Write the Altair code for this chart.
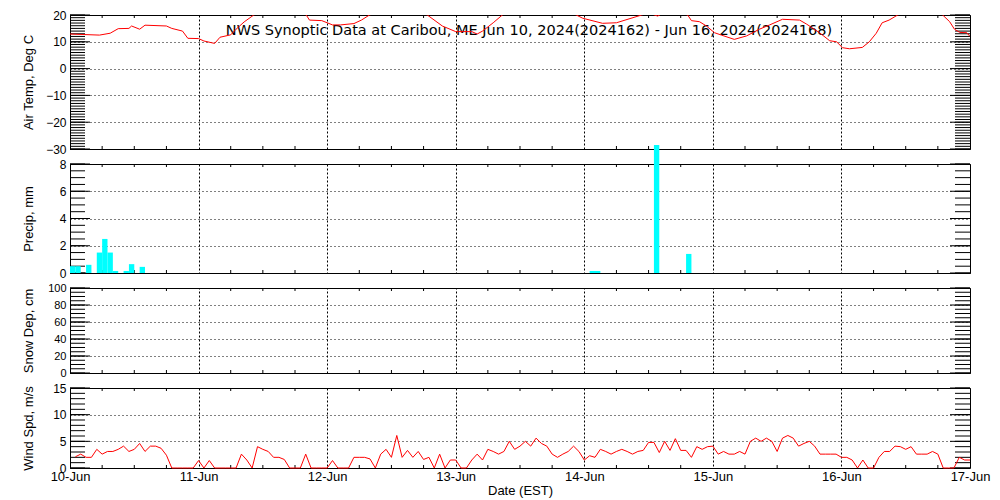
import json
import altair as alt
import pandas as pd

FONT = "Liberation Sans"
TFONT = "DejaVu Sans"
W = 900

TITLE = "NWS Synoptic Data at Caribou, ME    Jun 10, 2024(2024162) - Jun 16, 2024(2024168)"

day_labels = ["10-Jun", "11-Jun", "12-Jun", "13-Jun", "14-Jun", "15-Jun", "16-Jun", "17-Jun"]
day_hours = [0, 24, 48, 72, 96, 120, 144, 168]
six_hour_ticks = [h for h in range(6, 168, 6) if h % 24 != 0]

# Air temperature (hours since Jun 10 00 EST, deg C); values above 20 are off the plot
temp_hours = [0, 5.5, 7.5, 9, 11, 11.5, 13, 14, 18, 19, 21, 22, 24, 25, 27, 28, 30, 31, 32.5, 34.3,
              37, 40, 44.1, 44.7, 47, 49, 50.5, 53, 54.4, 55.9, 60, 64, 66.7, 69.5, 72, 75, 76, 77,
              79, 80.7, 84, 88, 92, 94.5, 95.7, 99.4, 102, 106.7, 108, 109.7, 110.5, 112, 115.3, 116,
              117.5, 118.8, 120.3, 121.6, 124, 126.3, 128.7, 130.6, 133, 136.2, 137.5, 139.9, 141.8,
              143.1, 144.2, 145.5, 147.9, 149.2, 150.5, 151.6, 152.9, 154.5, 157, 160, 162.9, 164.2,
              165.1, 166.1, 167.4, 168]
temp_c = [12.9, 12.5, 13.2, 14.9, 15.0, 15.9, 14.7, 16.2, 15.9, 15.0, 14.0, 11.3, 11.2, 10.3, 9.4, 11.7,
          12.6, 14.7, 17.4, 20.0, 22.5, 23.5, 20.0, 18.1, 17.9, 16.3, 16.3, 16.8, 18.1, 20.0, 23.0, 22.0,
          20.0, 15.9, 13.8, 13.8, 12.9, 14.0, 17.1, 20.0, 23.0, 24.0, 22.5, 20.0, 18.8, 16.9, 17.1, 20.0,
          20.8, 19.6, 20.5, 22.0, 20.0, 17.9, 17.5, 15.9, 13.4, 12.5, 10.9, 12.2, 14.7, 16.3, 18.4, 18.1,
          16.6, 13.4, 10.4, 10.0, 7.8, 7.4, 7.9, 10.0, 13.2, 17.1, 18.1, 20.0, 22.0, 22.5, 20.0, 17.5,
          14.7, 13.5, 13.4, 12.0]

# Hourly precipitation (hour start, mm)
precip_hours = [0, 1, 3, 5, 6, 7, 8, 10, 11, 13, 97, 98, 109, 115]
precip_mm = [0.5, 0.5, 0.6, 1.5, 2.5, 1.5, 0.15, 0.15, 0.65, 0.45, 0.15, 0.15, 9.4, 1.4]

# Wind speed (hourly, m/s)
wind_hours = list(range(1, 169))
wind_ms = [2.1, 2.6, 2.0, 2.0, 3.5, 2.6, 3.1, 3.1, 3.5, 4.1, 3.1, 3.5, 4.6, 3.1, 4.1, 4.1, 3.7, 2.4, 0,
           0, 0, 0, 0, 1.4, 0, 1.4, 0, 0, 0, 0, 0, 2.6, 1.5, 0, 4.0, 3.5, 3.1, 2.0, 2.0, 1.6, 0, 0, 0,
           2.6, 0, 0, 0, 0, 1.4, 0, 0, 0, 2.0, 2.0, 2.0, 1.7, 0, 2.6, 3.5, 2.0, 6.1, 2.0, 3.3, 2.0, 3.1,
           1.6, 2.0, 0, 2.6, 0, 1.5, 1.5, 0, 0, 1.5, 2.6, 1.5, 3.5, 3.1, 2.6, 3.1, 5.0, 3.5, 4.1, 5.0,
           4.1, 5.6, 4.6, 4.1, 2.6, 2.0, 2.6, 3.1, 4.1, 3.1, 1.5, 2.3, 2.0, 3.5, 3.1, 2.6, 3.1, 3.5,
           3.1, 2.6, 3.1, 3.3, 4.8, 4.8, 2.9, 5.0, 3.3, 5.5, 3.3, 3.3, 2.0, 4.0, 3.5, 4.0, 4.1, 2.6,
           3.1, 2.6, 2.6, 3.1, 2.6, 5.0, 5.6, 5.0, 5.6, 5.0, 3.1, 5.6, 6.1, 5.6, 4.1, 4.6, 5.0, 4.1,
           2.6, 2.6, 2.6, 2.6, 2.0, 2.0, 1.5, 0, 1.5, 0, 0, 2.0, 3.1, 3.1, 4.1, 4.0, 3.5, 4.0, 2.6,
           2.6, 2.6, 3.1, 2.6, 0, 0, 0, 2.0, 1.5, 1.5]

temp_major = [-30, -20, -10, 0, 10, 20]
temp_minor = list(range(-30, 21))
precip_major = [0, 2, 4, 6, 8]
precip_minor = [x / 2 for x in range(0, 17)]
snow_major = [0, 20, 40, 60, 80, 100]
snow_minor = list(range(0, 101, 5))
wind_major = [0, 5, 10, 15]
wind_minor = list(range(0, 16))

label_expr = json.dumps(day_labels) + "[round(datum.value / 24)]"
xscale = alt.Scale(domain=[0, 168], nice=False, zero=False)
GRID = dict(grid=True, gridColor="black", gridOpacity=1, gridWidth=1)


def x_axis(bottom):
    if bottom:
        return alt.Axis(values=day_hours, labelExpr=label_expr, title="Date (EST)", ticks=False,
                        domain=False, gridDash=[2, 2], labelFont=FONT, labelFontSize=13,
                        labelColor="black", labelPadding=2, labelFlush=False, labelOverlap=False,
                        titleFont=FONT, titleFontSize=13, titleFontWeight="normal",
                        titleColor="black", titlePadding=1, **GRID)
    return alt.Axis(values=day_hours, labels=False, title=None, ticks=False, domain=False,
                    gridDash=[2, 2], **GRID)


def panel(main_layers, ymin, ymax, majors, minors, height, title, label_size, bottom=False):
    yscale = alt.Scale(domain=[ymin, ymax], nice=False, zero=False)
    yaxis = alt.Axis(values=majors, title=title, ticks=False, domain=False, gridDash=[1, 3],
                     labelFont=FONT, labelFontSize=label_size, labelColor="black", labelPadding=4,
                     labelFlush=False, titleFont=FONT, titleFontSize=13, titleFontWeight="normal",
                     titleColor="black", titleX=-42, titleY=height / 2, titleAngle=270,
                     titleAlign="center", titleBaseline="middle", **GRID)
    xaxis = x_axis(bottom)
    Y = alt.Y("v:Q", scale=yscale, axis=yaxis)
    X = alt.X("h:Q", scale=xscale, axis=xaxis)
    mn = pd.DataFrame({"v": minors})
    mj = pd.DataFrame({"v": majors})
    xt = pd.DataFrame({"h": six_hour_ticks})
    rule = dict(color="black", strokeWidth=1)
    layers = [
        alt.Chart(mn).mark_rule(**rule).encode(y=Y, x=alt.value(0), x2=alt.value(15)),
        alt.Chart(mn).mark_rule(**rule).encode(y=Y, x=alt.value(W - 15), x2=alt.value(W)),
        alt.Chart(mj).mark_rule(**rule).encode(y=Y, x=alt.value(0), x2=alt.value(20)),
        alt.Chart(mj).mark_rule(**rule).encode(y=Y, x=alt.value(W - 20), x2=alt.value(W)),
        alt.Chart(xt).mark_rule(**rule).encode(x=X, y=alt.value(0), y2=alt.value(3)),
        alt.Chart(xt).mark_rule(**rule).encode(x=X, y=alt.value(height - 3), y2=alt.value(height)),
    ]
    built = [f(X, Y) for f in main_layers]
    return alt.layer(*(layers + built)).properties(width=W, height=height)


temp_df = pd.DataFrame({"h": temp_hours, "v": temp_c})
precip_df = pd.DataFrame({"h": precip_hours, "v": precip_mm})
precip_df["h2"] = precip_df["h"] + 1
wind_df = pd.DataFrame({"h": wind_hours, "v": wind_ms})

p1 = panel([
    lambda X, Y: alt.Chart(pd.DataFrame({"t": [TITLE]})).mark_text(
        font=TFONT, fontSize=14.5, color="black").encode(text="t:N", x=alt.value(459), y=alt.value(16)),
    lambda X, Y: alt.Chart(temp_df).mark_line(color="red", strokeWidth=1, clip=True).encode(x=X, y=Y),
], -30, 20, temp_major, temp_minor, 134, "Air Temp, Deg C", 12)

p2 = panel([
    lambda X, Y: alt.Chart(precip_df).mark_bar(color="#00FFFF", clip=False).encode(
        x=X, x2="h2:Q", y=Y, y2=alt.datum(0)),
], 0, 8, precip_major, precip_minor, 109, "Precip, mm", 12)

p3 = panel([], 0, 100, snow_major, snow_minor, 85, "Snow Dep, cm", 11)

p4 = panel([
    lambda X, Y: alt.Chart(wind_df).mark_line(color="red", strokeWidth=1).encode(x=X, y=Y),
], 0, 15, wind_major, wind_minor, 80, "Wind Spd, m/s", 12, bottom=True)

chart = alt.vconcat(p1, p2, p3, p4, spacing=15, bounds="flush").properties(
    padding={"left": 13, "top": 0, "right": 0, "bottom": 0},
    background="white",
).configure_view(stroke="black", strokeWidth=1)

chart.save("out.html", embed_options={"renderer": "svg", "actions": False})
